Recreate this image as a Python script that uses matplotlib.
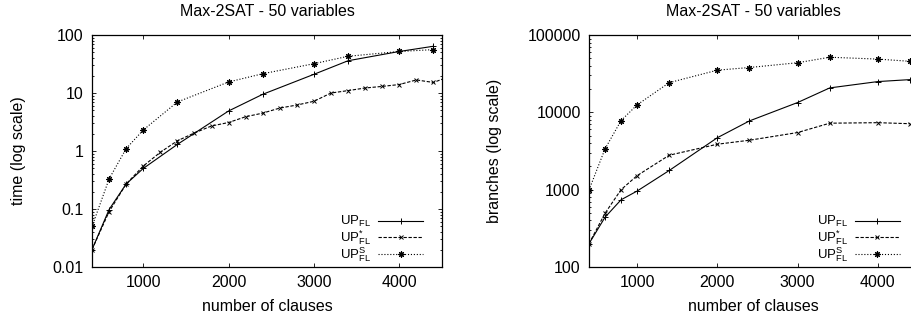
import matplotlib
matplotlib.use("Agg")
import matplotlib.pyplot as plt

plt.rcParams['font.family'] = ['Liberation Sans', 'DejaVu Sans']
plt.rcParams['mathtext.default'] = 'regular'
plt.rcParams['font.size'] = 11.5

# Max-2SAT, 50 variables
clauses = [400, 600, 800, 1000, 1400, 2000, 2400, 3000, 3400, 4000, 4400]
clauses_fine = [400, 600, 800, 1000, 1200, 1400, 1600, 1800, 2000, 2200, 2400,
                2600, 2800, 3000, 3200, 3400, 3600, 3800, 4000, 4200, 4400, 4600]

# time (seconds)
time_up = [0.02, 0.098, 0.27, 0.5, 1.3, 4.9, 9.5, 21, 36, 52, 64]
time_upstar = [0.02, 0.09, 0.27, 0.55, 0.95, 1.5, 2.05, 2.7, 3.1, 3.9, 4.5,
               5.5, 6.2, 7.2, 10.0, 11.0, 12.2, 13.0, 14.0, 16.8, 15.2, 19.5]
time_ups = [0.05, 0.33, 1.1, 2.3, 7.0, 15.5, 21.5, 32, 43, 52, 56]

# branches
br_up = [200, 440, 740, 960, 1770, 4700, 7750, 13400, 20700, 25000, 26500]
br_upstar = [200, 495, 1000, 1520, 2790, 3870, 4360, 5480, 7240, 7350, 7130]
br_ups = [990, 3370, 7830, 12500, 24200, 35100, 38000, 43800, 51600, 48800, 45700]

labels = ['UP$_{FL}$', 'UP$^{*}_{FL}$', 'UP$^{S}_{FL}$']
star = (8, 2, 0)

fig = plt.figure(figsize=(9.12, 3.2), dpi=100)
ax1 = fig.add_axes([0.1009, 0.1656, 0.3837, 0.725])
ax2 = fig.add_axes([0.6458, 0.1656, 0.3608, 0.725])


def style(ax, ylabel, ylim, yticks, ylabelpad):
    ax.set_yscale('log')
    ax.set_xlim(400, 4500)
    ax.set_ylim(*ylim)
    ax.set_xticks([1000, 2000, 3000, 4000])
    ax.set_yticks(yticks)
    ax.set_yticklabels([f"{t:g}" for t in yticks])
    ax.tick_params(which='both', direction='in', top=True, right=True,
                   width=0.6, labelsize=11.5)
    ax.tick_params(which='major', length=3, pad=6)
    ax.tick_params(which='minor', length=1.5)
    ax.tick_params(axis='x', which='minor', bottom=False, top=False)
    for s in ax.spines.values():
        s.set_linewidth(0.9)
    ax.set_title('Max-2SAT - 50 variables', fontsize=11.5, pad=14)
    ax.set_xlabel('number of clauses', fontsize=11.5, labelpad=6)
    ax.set_ylabel(ylabel, fontsize=11.5, labelpad=ylabelpad)


lw = 0.8
ax1.plot(clauses, time_up, '-', color='black', lw=lw, marker='+', ms=4, mew=0.7, label=labels[0])
ax1.plot(clauses_fine, time_upstar, '--', color='black', lw=lw, marker='x', ms=3.5, mew=0.7,
         dashes=(3, 1.5), label=labels[1])
ax1.plot(clauses, time_ups, ':', color='black', lw=lw, marker=star, ms=4.5, mew=0.8, label=labels[2])
style(ax1, 'time (log scale)', (0.01, 100), [0.01, 0.1, 1, 10, 100], 19)

ax2.plot(clauses, br_up, '-', color='black', lw=lw, marker='+', ms=4, mew=0.7, label=labels[0])
ax2.plot(clauses, br_upstar, '--', color='black', lw=lw, marker='x', ms=3.5, mew=0.7,
         dashes=(3, 1.5), label=labels[1])
ax2.plot(clauses, br_ups, ':', color='black', lw=lw, marker=star, ms=4.5, mew=0.8, label=labels[2])
style(ax2, 'branches (log scale)', (100, 100000), [100, 1000, 10000, 100000], 18)

for ax in (ax1, ax2):
    ax.legend(loc='lower right', bbox_to_anchor=(0.969, -0.022), frameon=False,
              markerfirst=False, handlelength=3.4, handletextpad=0.55,
              labelspacing=-0.1, fontsize=9.5, borderaxespad=0.2)

fig.savefig('out.png', dpi=100)
